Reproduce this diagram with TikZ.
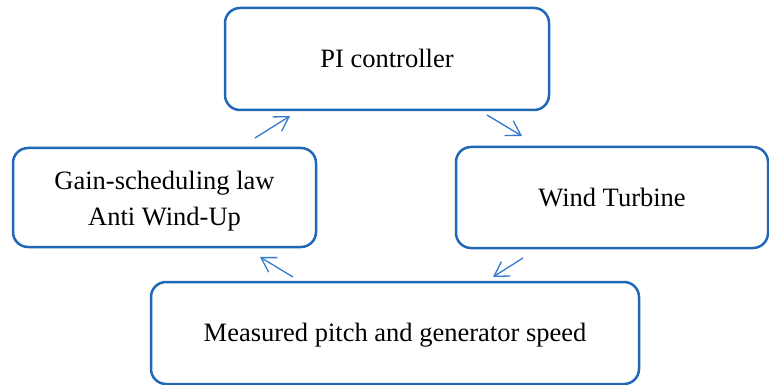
\documentclass[tikz,border=0pt]{standalone}
\usepackage{fontspec}
\setmainfont{Liberation Serif}
\usetikzlibrary{arrows.meta}
\definecolor{boxblue}{RGB}{30,104,182}
\definecolor{arrowblue}{RGB}{52,122,205}
\begin{document}
\begin{tikzpicture}[x=1pt,y=-1pt,
  box/.style={draw=boxblue, line width=2.5pt, rounded corners=15pt,
    inner sep=0pt, font=\fontsize{26.5}{36}\selectfont, text=black},
  oneline/.style={text height=17.5pt, text depth=0pt},
  flow/.style={draw=arrowblue, line width=1.3pt,
    -{Straight Barb[length=14pt,width=17pt,line width=1.3pt]}}]
\useasboundingbox (0,0) rectangle (769,385);
\node[box, oneline, minimum width=324pt, minimum height=102pt] (pi) at (387,59) {PI controller};
\node[box, oneline, minimum width=312pt, minimum height=101pt] (wt) at (612,197.5) {Wind Turbine};
\node[box, oneline, minimum width=488pt, minimum height=102pt] (mp) at (395,333) {Measured pitch and generator speed};
\node[box, minimum width=303pt, minimum height=99pt] (gs) at (164.5,197.5) {};
\node[font=\fontsize{26.5}{36}\selectfont, align=center, inner sep=0pt] (gstext) at ([yshift=-4pt]gs.center) {Gain-scheduling law\\Anti Wind-Up};
\coordinate (a1s) at (255,138);
\coordinate (a1e) at (290,116);
\coordinate (a2s) at (487,115);
\coordinate (a2e) at (522,136);
\coordinate (a3s) at (523,258);
\coordinate (a3e) at (493,277);
\coordinate (a4s) at (293,277);
\coordinate (a4e) at (260,257);
\draw[flow] (a1s) -- (a1e);
\draw[flow] (a2s) -- (a2e);
\draw[flow] (a3s) -- (a3e);
\draw[flow] (a4s) -- (a4e);
\end{tikzpicture}
\end{document}
